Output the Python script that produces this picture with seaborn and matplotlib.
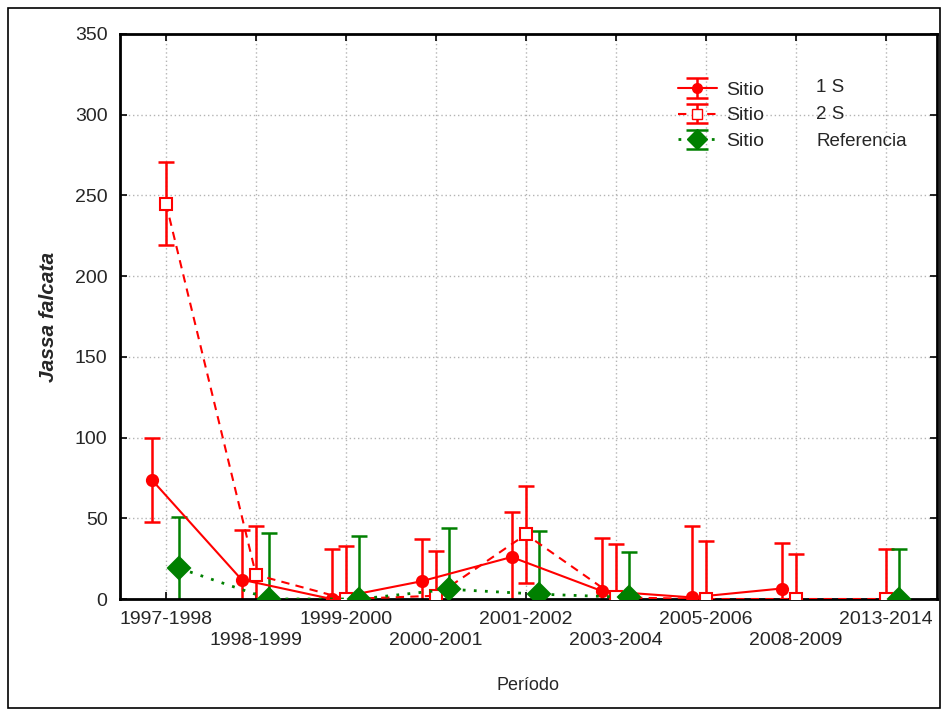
import numpy as np
import pandas as pd
import matplotlib
matplotlib.use("Agg")
import matplotlib.pyplot as plt
import seaborn as sns
from matplotlib.patches import Rectangle

periods = ["1997-1998", "1998-1999", "1999-2000", "2000-2001", "2001-2002",
           "2003-2004", "2005-2006", "2008-2009", "2013-2014"]

mean_1s = [74, 12, 0, 11, 26, 5, 1, 6.5, np.nan]
err_1s = [26, 31, 31, 26, 28, 33, 44, 28, np.nan]

mean_2s = [245, 15, 0, 2, 40, 1, 0, 0, 0]
err_2s = [26, 30, 33, 28, 30, 33, 36, 28, 31]

mean_ref = [19, 0, 0, 6, 3, 1, np.nan, np.nan, 0]
err_ref = [32, 41, 39, 38, 39, 28, np.nan, np.nan, 31]

series_names = ["1 S", "2 S", "Referencia"]

sns.set_style("white")
plt.rcParams["font.family"] = ["Liberation Sans", "DejaVu Sans"]

fig = plt.figure(figsize=(9.42, 7.09), dpi=100)
ax = fig.add_axes([120 / 942, 1 - 599 / 709, (937 - 120) / 942, (599 - 34) / 709])

red = "#ff0000"
green = "#008000"
specs = [
    dict(mean=mean_1s, err=err_1s, off=-0.16, color=red, ls="-", marker="o", ms=8,
         mfc=red, lw=1.5),
    dict(mean=mean_2s, err=err_2s, off=0.0, color=red, ls=(0, (4, 3)), marker="s", ms=8,
         mfc="white", lw=1.5),
    dict(mean=mean_ref, err=err_ref, off=0.15, color=green, ls=(0, (1, 3)), marker="D", ms=11,
         mfc=green, lw=2.0),
]

handles = []
for name, s in zip(series_names, specs):
    m = np.array(s["mean"], dtype=float)
    e = np.array(s["err"], dtype=float)
    xpos = np.arange(len(periods)) + s["off"]
    seg = np.cumsum(np.isnan(m))
    df = pd.DataFrame({"x": xpos, "y": m, "seg": seg}).dropna()
    ax.errorbar(xpos, m, yerr=e, fmt="none", ecolor=s["color"], elinewidth=1.8,
                capsize=6, capthick=1.8, zorder=2)
    sns.lineplot(data=df, x="x", y="y", units="seg", estimator=None, ax=ax,
                 color=s["color"], linestyle=s["ls"], linewidth=s["lw"],
                 marker=s["marker"], markersize=s["ms"], markerfacecolor=s["mfc"],
                 markeredgecolor=s["color"], markeredgewidth=1.5, zorder=3,
                 legend=False)
    h = ax.errorbar([np.nan], [np.nan], yerr=[1], color=s["color"], linestyle=s["ls"],
                    linewidth=s["lw"], marker=s["marker"], markersize=s["ms"] - 1,
                    markerfacecolor=s["mfc"], markeredgecolor=s["color"],
                    elinewidth=1.8, capsize=8, capthick=1.8, label="Sitio")
    handles.append(h)

ax.set_xlim(-0.511, 8.567)
ax.set_ylim(0, 350)
ax.set_yticks(np.arange(0, 351, 50))
ax.set_xticks(np.arange(len(periods)))
ax.set_xticklabels([p if i % 2 == 0 else "\n" + p for i, p in enumerate(periods)],
                   fontsize=14, linespacing=1.3)
ax.tick_params(axis="y", labelsize=14, pad=9)
ax.tick_params(axis="x", pad=9)
ax.tick_params(direction="in", length=5, width=1.2, top=True, right=True,
               bottom=True, left=True, color="black")
ax.grid(True, color="#b4b4b4", linestyle=(0, (1, 2)), linewidth=1.0)
for sp in ax.spines.values():
    sp.set_color("black")
    sp.set_linewidth(2.0)

ax.set_xlabel("Período", fontsize=13, labelpad=20)
ax.set_ylabel("Jassa falcata", fontsize=15, fontweight="bold", fontstyle="italic",
              labelpad=12)

leg = ax.legend(handles=handles, labels=["Sitio"] * 3, loc="upper left",
                bbox_to_anchor=((678 - 120) / 817, 1 - (81 - 34) / 565), frameon=False,
                fontsize=14, handlelength=2.0, labelspacing=0.42, handletextpad=0.5,
                borderaxespad=0, borderpad=0)
for i, name in enumerate(series_names):
    ax.text((816 - 120) / 817, 1 - (88 + 26.5 * i - 34) / 565, name,
            transform=ax.transAxes, fontsize=13.5, va="center", ha="left")

fig.patches.append(Rectangle((8 / 942, 0.002), (940 - 8) / 942, 1 - 8 / 709 - 0.002,
                             transform=fig.transFigure, fill=False, edgecolor="black",
                             linewidth=1.2))

fig.savefig("out.png", dpi=100)
